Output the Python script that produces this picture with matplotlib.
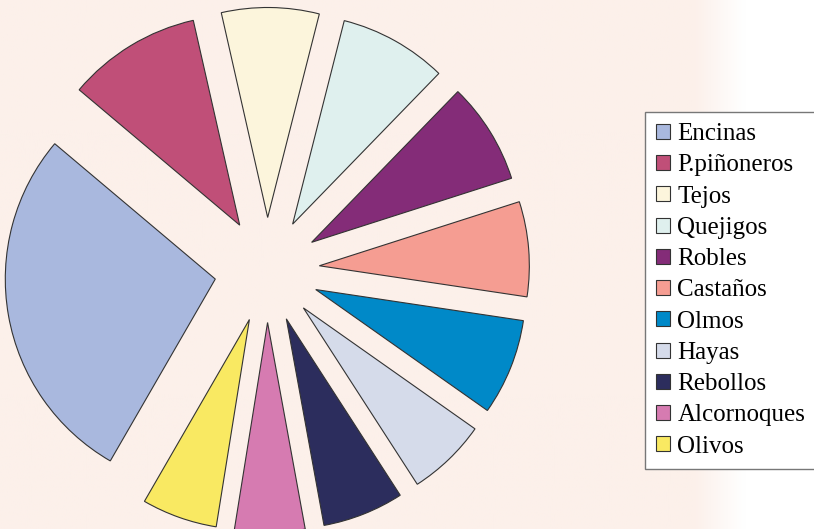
#!/usr/bin/env python3
"""
Exploded pie chart of tree species with a legend on the right.
"""
import numpy as np
import matplotlib.pyplot as plt

especies = ['Encinas', 'P.piñoneros', 'Tejos', 'Quejigos', 'Robles',
            'Castaños', 'Olmos', 'Hayas', 'Rebollos', 'Alcornoques',
            'Olivos']
valores = [27.8, 10.3, 7.5, 8.3, 7.8, 7.3, 7.4, 6.1, 6.25, 5.4, 5.8]
colores = ['#a9b8de', '#c04f78', '#fcf5dc', '#dff0ee', '#842c78',
           '#f59d92', '#0089c8', '#d5dbea', '#2c2d5d', '#d67bb1',
           '#f9e962']

W, H = 814, 529
fig = plt.figure(figsize=(W / 100, H / 100), dpi=100)
fig.patch.set_facecolor('white')

# soft pinkish backdrop that fades out on the right
bg = fig.add_axes([0, 0, 1, 1])
bg.set_axis_off()
xs = np.linspace(0, W, 400)
fade = np.clip((745 - xs) / 50, 0, 1)
base = np.array([252, 240, 234]) / 255
img = np.ones((2, len(xs), 3))
img[:, :, :] = 1 - (1 - base) * fade[None, :, None]
bg.imshow(img, aspect='auto', extent=[0, 1, 0, 1])
bg.set_xlim(0, 1)
bg.set_ylim(0, 1)

# pie axes: centre at (268, 270) px, radius 210 px
cx, cy, r = 267, 270, 210
ax = fig.add_axes([0, 0, 1, 1])
ax.set_axis_off()
ax.patch.set_alpha(0)
wedges, _ = ax.pie(valores, colors=colores, startangle=240,
                   counterclock=False, explode=[0.25] * len(valores),
                   wedgeprops=dict(edgecolor='#333333', linewidth=0.8))
ax.set_xlim(-cx / r, (W - cx) / r)
ax.set_ylim(-(H - cy) / r, cy / r)
ax.set_aspect('auto')

leg = fig.legend(wedges, especies, loc='upper left',
                 bbox_to_anchor=(645 / W, 1 - 112 / H), borderaxespad=0,
                 prop={'family': 'Liberation Serif', 'size': 18},
                 handlelength=0.55, handleheight=0.55, handletextpad=0.3,
                 labelspacing=0.37, borderpad=0.45, fancybox=False,
                 framealpha=1)
leg.get_frame().set_edgecolor('#777777')
leg.get_frame().set_linewidth(1.0)

fig.savefig('out.png', dpi=100)
